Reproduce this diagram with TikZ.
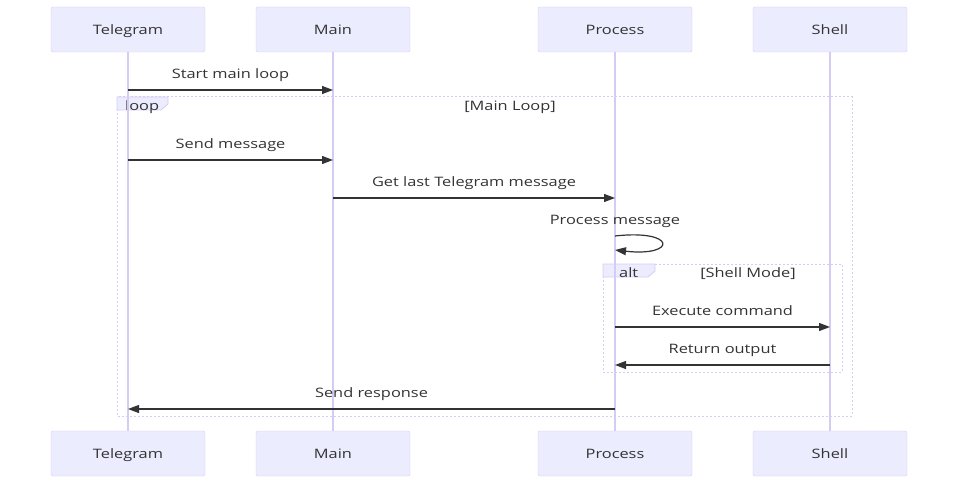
\documentclass[tikz,border=0pt]{standalone}
\usepackage{fontspec}
\setmainfont{Open Sans}[FakeStretch=1.26]
\usetikzlibrary{arrows.meta}
\definecolor{actfill}{HTML}{ECECFF}
\definecolor{actline}{HTML}{D6CBF2}
\definecolor{msgline}{HTML}{333333}
\tikzstyle{actor} = [draw=actline, fill=actfill, rectangle, rounded corners=2pt, minimum height=45pt, minimum width=154pt, align=center, text=msgline, text height=12pt, text depth=2pt]
\tikzstyle{lifeline} = [draw=actline, line width=1.6pt]
\tikzstyle{frame} = [draw=actline, dash pattern=on 2pt off 2pt, line width=1pt]
\tikzstyle{tab} = [draw=actline, fill=actfill, line width=0.8pt]
\tikzstyle{msg} = [->, draw=msgline, line width=1.2pt]
\tikzstyle{lbl} = [anchor=base, yshift=11.5pt, text=msgline, inner sep=0pt]
\tikzstyle{tag} = [anchor=base west, text=msgline, inner sep=0pt]

\begin{document}
\begin{tikzpicture}[x=1pt, y=-1pt, >={Triangle[length=11pt,width=8pt]}]
    \tikzset{font={\fontsize{13pt}{15}\selectfont}}
    \useasboundingbox (0,0) rectangle (959,484);
    % frames
    \draw [frame] (117,97) rectangle (852,416);
    \draw [tab] (117,97) -- (168,97) -- (168,104) -- (161,110) -- (117,110) -- cycle;
    \node [tag] (looptag) at (125,110.5) {loop};
    \node [anchor=base, text=msgline, inner sep=0pt] (loopcond) at (510,110.5) {[Main Loop]};
    \draw [frame] (603,264) rectangle (842,372);
    \draw [tab] (603,264) -- (655,264) -- (655,271) -- (648,277) -- (603,277) -- cycle;
    \node [tag] (alttag) at (619,277) {alt};
    \node [anchor=base, text=msgline, inner sep=0pt] (altcond) at (748,277) {[Shell Mode]};
    % actors
    \node [actor] (tg) at (128,29.5) {Telegram};
    \node [actor] (mn) at (333,29.5) {Main};
    \node [actor] (pr) at (615,29.5) {Process};
    \node [actor] (sh) at (830,29.5) {Shell};
    \node [actor] (tgb) at (128,453.5) {Telegram};
    \node [actor] (mnb) at (333,453.5) {Main};
    \node [actor] (prb) at (615,453.5) {Process};
    \node [actor] (shb) at (830,453.5) {Shell};
    \foreach \a in {tg, mn, pr, sh}
      \draw [lifeline] (\a.south) -- (\a b.north);
    % messages
    \draw [msg] (tg |- 0,90) -- node[lbl] {Start main loop} (mn |- 0,90);
    \draw [msg] (tg |- 0,160) -- node[lbl] {Send message} (mn |- 0,160);
    \draw [msg] (mn |- 0,198) -- node[lbl] {Get last Telegram message} (pr |- 0,198);
    \draw [msg] (pr |- 0,236) node[lbl] {Process message} .. controls (677,229) and (677,257) .. (pr |- 0,250);
    \draw [msg] (pr |- 0,327) -- node[lbl] {Execute command} (sh |- 0,327);
    \draw [msg] (sh |- 0,365) -- node[lbl] {Return output} (pr |- 0,365);
    \draw [msg] (pr |- 0,409) -- node[lbl] {Send response} (tg |- 0,409);
\end{tikzpicture}
\end{document}
